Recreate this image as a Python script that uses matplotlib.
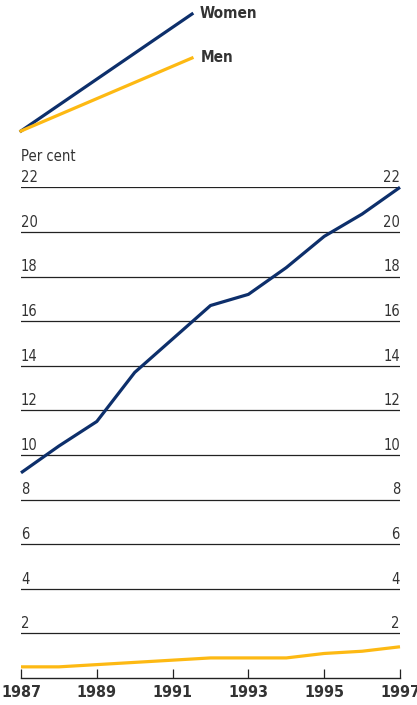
import matplotlib.pyplot as plt
from matplotlib.lines import Line2D

plt.rcParams['font.family'] = ['DejaVu Sans']
plt.rcParams['font.stretch'] = 'condensed'

years = [1987, 1988, 1989, 1990, 1991, 1992, 1993, 1994, 1995, 1996, 1997]
women = [9.2, 10.4, 11.5, 13.7, 15.2, 16.7, 17.2, 18.4, 19.8, 20.8, 22.0]
men = [0.5, 0.5, 0.6, 0.7, 0.8, 0.9, 0.9, 0.9, 1.1, 1.2, 1.4]
grid_values = [2, 4, 6, 8, 10, 12, 14, 16, 18, 20, 22]
year_ticks = [1987, 1989, 1991, 1993, 1995, 1997]

navy = '#0d2f6b'
gold = '#fdb913'
text_col = '#333333'

W, H = 417, 705
fig = plt.figure(figsize=(W / 100, H / 100), dpi=100)

# main plot area
ax = fig.add_axes([21 / W, (H - 678) / H, 379 / W, (678 - 187.3) / H])
ax.set_xlim(1987, 1997)
ax.set_ylim(0, 22)

for v in grid_values:
    ax.axhline(v, color='#222222', lw=0.9, zorder=1)
    ax.text(1987, v + 0.1, str(v), ha='left', va='bottom', fontsize=10.5, color=text_col)
    ax.text(1997, v + 0.1, str(v), ha='right', va='bottom', fontsize=10.5, color=text_col)

ax.plot(years, women, color=navy, lw=2.3, clip_on=False, zorder=3, solid_capstyle='butt')
ax.plot(years, men, color=gold, lw=2.3, clip_on=False, zorder=3, solid_capstyle='butt')

for s in ['top', 'right', 'left']:
    ax.spines[s].set_visible(False)
ax.spines['bottom'].set_color('#222222')
ax.spines['bottom'].set_linewidth(1.0)
ax.set_yticks([])
ax.set_xticks(year_ticks)
ax.set_xticklabels([str(y) for y in year_ticks], fontweight='bold', fontsize=11.5, color=text_col)
ax.tick_params(axis='x', direction='in', length=6.5, width=0.9, color='#222222', pad=5)

ax.text(1987, 23.05, 'Per cent', ha='left', va='bottom', fontsize=10.5, color=text_col)

# key in the top left
key = fig.add_axes([0, 0, 1, 1])
key.set_xlim(0, W)
key.set_ylim(H, 0)
key.axis('off')
key.add_line(Line2D([21, 192], [131, 14], color=navy, lw=2.3))
key.add_line(Line2D([21, 192], [131, 58], color=gold, lw=2.3))
key.text(200, 13, 'Women', ha='left', va='center', fontsize=11, fontweight='bold', color=text_col)
key.text(201, 58, 'Men', ha='left', va='center', fontsize=11, fontweight='bold', color=text_col)

fig.savefig('out.png', dpi=100)
